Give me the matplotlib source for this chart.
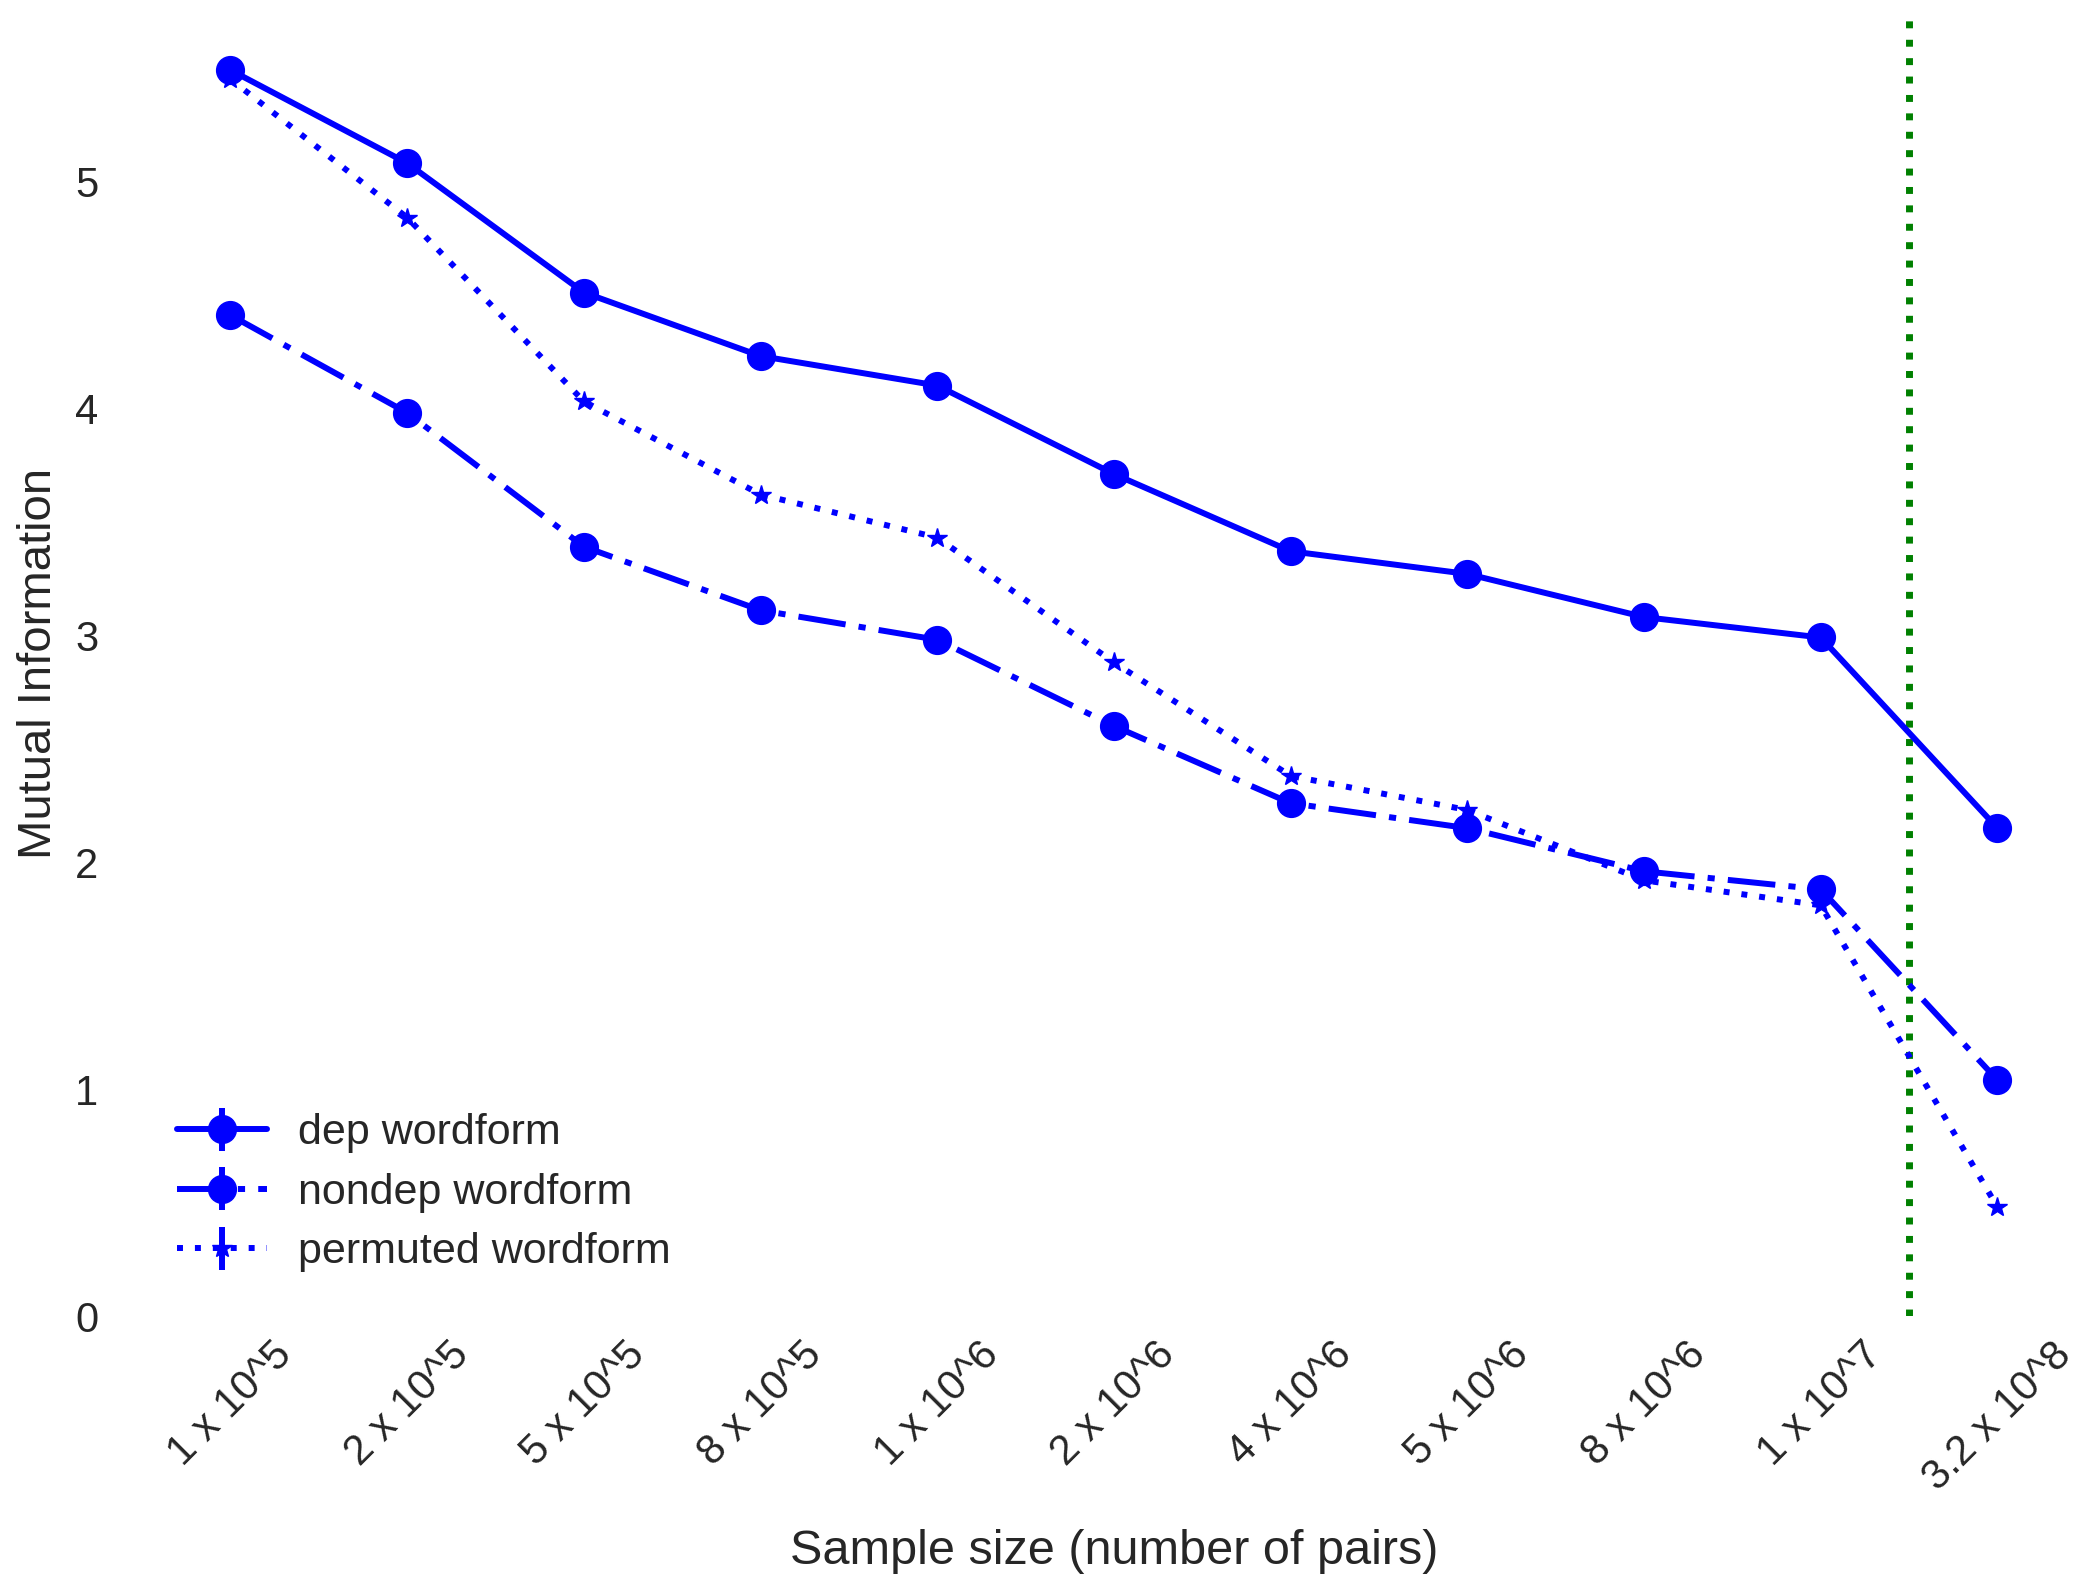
import matplotlib
matplotlib.use('Agg')
import matplotlib.pyplot as plt
import seaborn as sns
import numpy as np

sns.set_style('white')
plt.rcParams['font.family'] = ['Liberation Sans', 'DejaVu Sans']
plt.rcParams['text.color'] = '#262626'
plt.rcParams['axes.labelcolor'] = '#262626'
plt.rcParams['xtick.color'] = '#262626'
plt.rcParams['ytick.color'] = '#262626'

sizes = ['1 x 10^5', '2 x 10^5', '5 x 10^5', '8 x 10^5', '1 x 10^6', '2 x 10^6',
         '4 x 10^6', '5 x 10^6', '8 x 10^6', '1 x 10^7', '3.2 x 10^8']
dep = [5.49, 5.08, 4.51, 4.23, 4.10, 3.71, 3.37, 3.27, 3.08, 2.99, 2.15]
nondep = [4.41, 3.98, 3.39, 3.11, 2.98, 2.60, 2.26, 2.15, 1.96, 1.88, 1.04]
permuted = [5.45, 4.84, 4.03, 3.62, 3.43, 2.88, 2.38, 2.23, 1.92, 1.81, 0.48]
err = [0.02, 0.01, 0.01, 0.01, 0.01, 0.01, 0.01, 0.01, 0.01, 0.01, 0.01]
cutoff = 9.5

x = np.arange(len(sizes))
fig, ax = plt.subplots(figsize=(20.9, 15.8), dpi=100)
fig.subplots_adjust(left=0.068, right=0.998, top=0.993, bottom=0.167)

l1 = ax.errorbar(x, dep, yerr=err, fmt='o-', color='b', lw=4.3, ms=20, label='dep wordform')
l2 = ax.errorbar(x, nondep, yerr=err, fmt='o-.', color='b', lw=4.3, ms=20, label='nondep wordform')
l3 = ax.errorbar(x, permuted, yerr=err, fmt='*:', color='b', lw=4.3, ms=15, label='permuted wordform')
l2[0].set_dashes((8, 2.2, 1.2, 2.2))
l3[0].set_dashes((1, 2.0))
ax.axvline(cutoff, color='g', ls=':', lw=5)

ax.set_xlim(-0.5, 10.5)
ax.set_ylim(0, 5.75)
ax.set_xticks(x)
ax.set_xticklabels(sizes, rotation=45, fontsize=30)
ax.set_yticks([0, 1, 2, 3, 4, 5])
ax.tick_params(axis='y', labelsize=30, pad=28)
ax.tick_params(axis='x', pad=10)
ax.set_xlabel('Sample size (number of pairs)', fontsize=35, labelpad=22)
ax.set_ylabel('Mutual Information', fontsize=34, labelpad=10)
for s in ax.spines.values():
    s.set_visible(False)

ax.legend(loc='lower left', fontsize=31, frameon=False, handlelength=2.1,
          handletextpad=0.7, labelspacing=0.45, bbox_to_anchor=(-0.002, 0.004))
fig.savefig('out.png')
